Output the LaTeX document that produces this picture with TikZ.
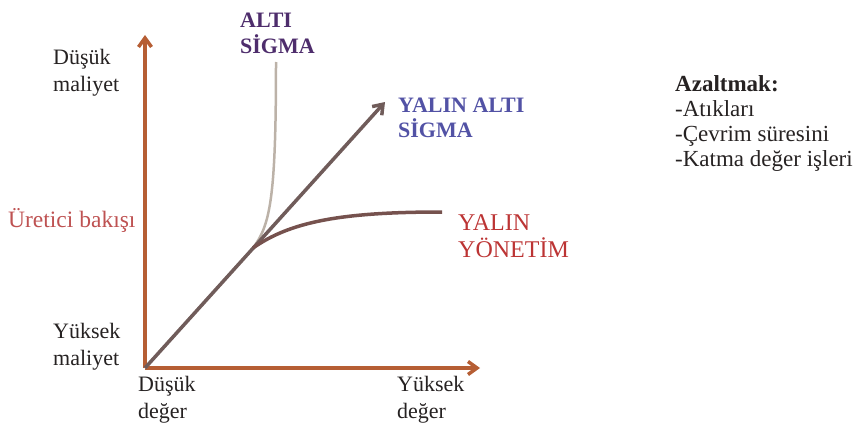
\documentclass[tikz,border=0pt]{standalone}
\usepackage{fontspec}
\setmainfont{Liberation Serif}
\usetikzlibrary{arrows.meta, positioning}
\definecolor{axisbrown}{RGB}{182,94,52}
\definecolor{leangray}{RGB}{112,92,90}
\definecolor{mgmtbrown}{RGB}{118,82,78}
\definecolor{sixtan}{RGB}{188,178,168}
\definecolor{sixpurple}{RGB}{78,45,108}
\definecolor{leanblue}{RGB}{82,82,165}
\definecolor{mgmtred}{RGB}{188,52,52}
\definecolor{viewred}{RGB}{190,82,82}
\definecolor{inkgray}{RGB}{38,34,34}

\begin{document}
\begin{tikzpicture}[x=1pt, y=-1pt, >={Straight Barb[length=9pt,width=13pt]},
  lbl/.style={anchor=base west, align=left, inner sep=0pt,
              font=\fontsize{22}{27}\selectfont, text=inkgray},
  tag/.style={lbl, font=\fontsize{22}{25}\selectfont\bfseries}]
  \useasboundingbox (0,0) rectangle (856,428);

  % axes
  \coordinate (O) at (145,368);
  \coordinate (ytop) at (145,35);
  \coordinate (xend) at (480,368);
  \draw[->, axisbrown, line width=3.5pt] (O) -- (ytop);
  \draw[->, axisbrown, line width=3.5pt] (O) -- (xend);

  % curves
  \coordinate (leantip) at (385,102);
  \coordinate (split) at (253,248);
  \coordinate (sixend) at (276,62);
  \coordinate (mgmtend) at (442,212);
  \draw[sixtan, line width=2.5pt] (O) -- (split)
        .. controls (270,225) and (276,200) .. (sixend);
  \draw[->, leangray, line width=3.5pt] (O) -- (leantip);
  \draw[mgmtbrown, line width=3.5pt] (split)
        .. controls (290,222) and (340,212) .. (mgmtend);

  % axis labels (anchored at the last line)
  \node[lbl] (lowcost) at (53,91) {Düşük\\maliyet};
  \node[lbl, text=viewred, font=\fontsize{23.5}{27}\selectfont] (view) at (8,227) {Üretici bakışı};
  \node[lbl] (highcost) at (53,365) {Yüksek\\maliyet};
  \node[lbl] (lowvalue) at (138,418) {Düşük\\değer};
  \node[lbl] (highvalue) at (397,418) {Yüksek\\değer};

  % curve labels
  \node[tag, text=sixpurple] (six) at (240,53) {ALTI\\SİGMA};
  \node[tag, text=leanblue] (leansix) at (398,137) {YALIN ALTI\\SİGMA};
  \node[lbl, text=mgmtred, font=\fontsize{24}{27}\selectfont] (mgmt) at (458,257) {YALIN\\YÖNETİM};

  % list
  \node[lbl, font=\fontsize{23}{25}\selectfont] (reduce) at (675,166)
       {\textbf{Azaltmak:}\\-Atıkları\\-Çevrim süresini\\-Katma değer işleri};
\end{tikzpicture}
\end{document}
